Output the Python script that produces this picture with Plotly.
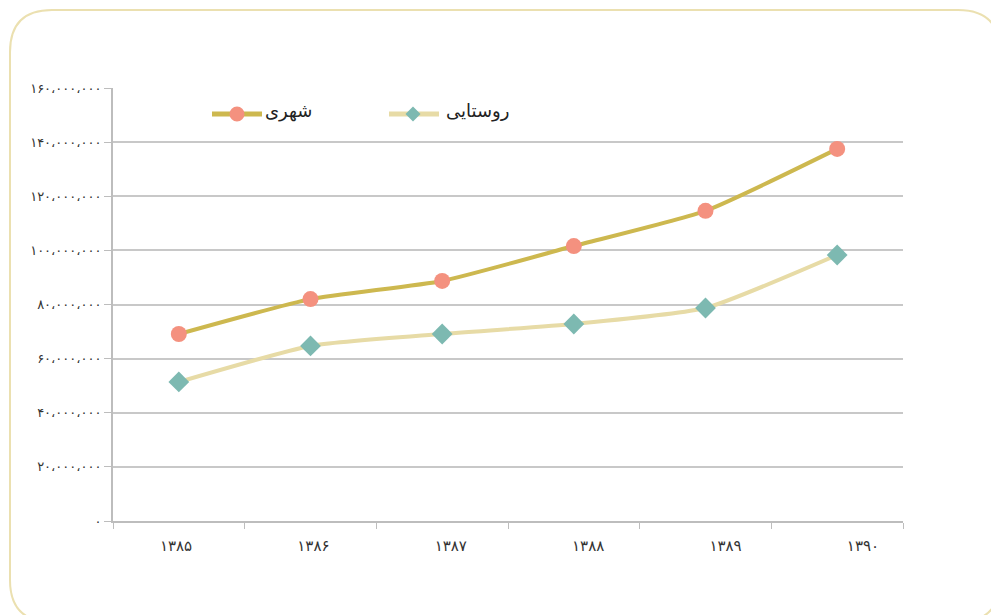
import plotly.graph_objects as go

years = ["۱۳۸۵", "۱۳۸۶", "۱۳۸۷", "۱۳۸۸", "۱۳۸۹", "۱۳۹۰"]
urban = [69.1e6, 82.0e6, 88.7e6, 101.6e6, 114.6e6, 137.5e6]
rural = [51.4e6, 64.7e6, 69.1e6, 72.8e6, 78.7e6, 98.3e6]
urban_name = "شهری"
rural_name = "روستایی"
ytick_vals = [0, 20e6, 40e6, 60e6, 80e6, 100e6, 120e6, 140e6, 160e6]
ytick_text = ["۰", "۲۰،۰۰۰،۰۰۰", "۴۰،۰۰۰،۰۰۰", "۶۰،۰۰۰،۰۰۰", "۸۰،۰۰۰،۰۰۰",
              "۱۰۰،۰۰۰،۰۰۰", "۱۲۰،۰۰۰،۰۰۰", "۱۴۰،۰۰۰،۰۰۰", "۱۶۰،۰۰۰،۰۰۰"]

URBAN_LINE = "#cdb84f"
URBAN_MARK = "#f4917f"
RURAL_LINE = "#e7dba6"
RURAL_MARK = "#7db9b1"
FONT = "DejaVu Sans"

W, H = 991, 615
L, R, T, B = 113, 903, 88, 521


def px(x):
    return (x - L) / (R - L)


def py(y):
    return (B - y) / (B - T)


fig = go.Figure()
fig.add_trace(go.Scatter(
    x=years, y=urban, name=urban_name, mode="lines+markers",
    line=dict(color=URBAN_LINE, width=4, shape="spline", smoothing=0.5),
    marker=dict(symbol="circle", size=16, color=URBAN_MARK),
    showlegend=False))
fig.add_trace(go.Scatter(
    x=years, y=rural, name=rural_name, mode="lines+markers",
    line=dict(color=RURAL_LINE, width=4, shape="spline", smoothing=0.5),
    marker=dict(symbol="diamond", size=16, color=RURAL_MARK),
    showlegend=False))
# invisible trace to carry the label axis
fig.add_trace(go.Scatter(x=list(range(len(years))), y=urban, xaxis="x2",
                         mode="markers", marker=dict(opacity=0),
                         hoverinfo="skip", showlegend=False))

# rounded frame
x0, y0, x1, y1, r = 10, 10, 1000, 622, 42
path = (f"M {px(x0+r)},{py(y0)} L {px(x1-r)},{py(y0)} "
        f"Q {px(x1)},{py(y0)} {px(x1)},{py(y0+r)} "
        f"L {px(x1)},{py(y1-r)} Q {px(x1)},{py(y1)} {px(x1-r)},{py(y1)} "
        f"L {px(x0+r)},{py(y1)} Q {px(x0)},{py(y1)} {px(x0)},{py(y1-r)} "
        f"L {px(x0)},{py(y0+r)} Q {px(x0)},{py(y0)} {px(x0+r)},{py(y0)} Z")
shapes = [dict(type="path", path=path, xref="paper", yref="paper",
               line=dict(color="#ebe0b0", width=2), layer="below")]

# legend (RTL style: text left of symbol)
ly = py(114)
shapes.append(dict(type="line", xref="paper", yref="paper",
                   x0=px(212), x1=px(262), y0=ly, y1=ly,
                   line=dict(color=URBAN_LINE, width=5)))
shapes.append(dict(type="circle", xref="paper", yref="paper",
                   x0=px(229.5), x1=px(244.5), y0=py(121.5), y1=py(106.5),
                   fillcolor=URBAN_MARK, line=dict(width=0)))
shapes.append(dict(type="line", xref="paper", yref="paper",
                   x0=px(389), x1=px(439), y0=ly, y1=ly,
                   line=dict(color=RURAL_LINE, width=5)))
cx, cy, d = 413, 114, 7.5
shapes.append(dict(type="path", xref="paper", yref="paper",
                   path=f"M {px(cx)},{py(cy-d)} L {px(cx+d)},{py(cy)} L {px(cx)},{py(cy+d)} L {px(cx-d)},{py(cy)} Z",
                   fillcolor=RURAL_MARK, line=dict(width=0)))

annotations = [
    dict(text=urban_name, xref="paper", yref="paper", x=px(314), y=py(111),
         xanchor="right", yanchor="middle", showarrow=False,
         font=dict(family=FONT, size=18, color="#222")),
    dict(text=rural_name, xref="paper", yref="paper", x=px(511), y=py(111),
         xanchor="right", yanchor="middle", showarrow=False,
         font=dict(family=FONT, size=18, color="#222")),
]

fig.update_layout(
    width=W, height=H,
    margin=dict(l=L, r=W - R, t=T, b=H - B),
    paper_bgcolor="white", plot_bgcolor="white",
    showlegend=False,
    shapes=shapes, annotations=annotations,
    xaxis=dict(type="category", showticklabels=False, ticks="outside",
               tickson="boundaries", ticklen=6, tickcolor="#bdbdbd",
               showline=True, linecolor="#bdbdbd", linewidth=2,
               showgrid=False, zeroline=False, range=[-0.5, 5.5]),
    xaxis2=dict(overlaying="x", anchor="y", side="bottom", range=[-0.4585, 5.2915],
                tickmode="array", tickvals=list(range(len(years))), ticktext=years,
                ticks="", showline=False, showgrid=False, zeroline=False,
                tickfont=dict(family=FONT, size=15, color="#333"), ticklabelstandoff=14),
    yaxis=dict(range=[0, 160e6], tickmode="array", tickvals=ytick_vals,
               ticktext=ytick_text, ticks="outside", ticklen=7,
               tickcolor="#bdbdbd", showline=True, linecolor="#bdbdbd",
               linewidth=2, gridcolor="#c8c8c8", gridwidth=1.5, zeroline=False,
               tickfont=dict(family=FONT, size=13, color="#333")),
    font=dict(family=FONT),
)

fig.write_html("out.html", config={"displayModeBar": False},
               post_script="document.body.style.margin='0';")
